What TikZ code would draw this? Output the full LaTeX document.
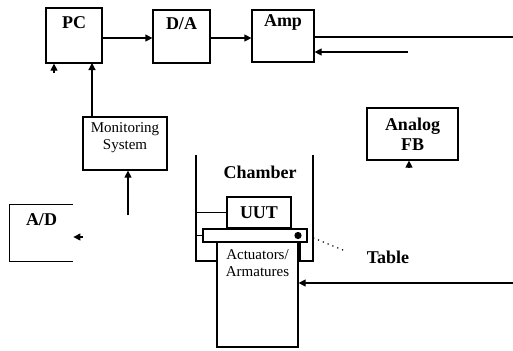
\documentclass[tikz,border=0pt]{standalone}
\usepackage{fontspec}
\setmainfont{Liberation Serif}
\usetikzlibrary{arrows.meta}

\begin{document}
\begin{tikzpicture}[x=0.5pt,y=-0.5pt,
  blk/.style={draw=black,line width=0.6pt,inner sep=0pt},
  bigtxt/.style={font=\fontsize{9}{10}\selectfont\bfseries},
  smalltxt/.style={font=\fontsize{7.5}{8.5}\selectfont,align=center},
  toplbl/.style={anchor=north,inner sep=#1},
  sig/.style={line width=0.6pt,-{Triangle[length=3.5pt,width=3.5pt]}},
  wire/.style={line width=0.6pt}]
  \useasboundingbox (0,0) rectangle (513,350);
  \node[blk,minimum width=28pt,minimum height=27.5pt,label={[bigtxt,toplbl=4.5pt]north:PC}] (pc) at (74,35.5) {};
  \node[blk,minimum width=28.5pt,minimum height=26.5pt,label={[bigtxt,toplbl=4pt]north:D/A}] (da) at (181.5,36.5) {};
  \node[blk,minimum width=31pt,minimum height=26pt,label={[bigtxt,toplbl=2.5pt]north:Amp}] (amp) at (283,36) {};
  \node[blk,minimum width=42pt,minimum height=26.5pt,label={[smalltxt,toplbl=3pt]north:Monitoring\\System}] (mon) at (125,143.5) {};
  \node[minimum width=31.5pt,minimum height=28pt,inner sep=0pt,label={[bigtxt,toplbl=4.5pt]north:A/D}] (ad) at (41.5,233) {};
  \draw[wire] (ad.north east) -- (ad.north west) -- (ad.south west) -- (ad.south east);
  \node[blk,bigtxt,align=center,minimum width=45.5pt,minimum height=26pt] (afb) at (412.5,134) {Analog\\FB};
  \coordinate (cwall) at (196,155);
  \coordinate (cwallr) at (313,155);
  \draw[wire] (cwall) -- (196,261) -- (217,261);
  \draw[wire] (cwallr) -- (313,261) -- (300,261) -- (300,242);
  \node[bigtxt] (chlbl) at (260,172) {Chamber};
  \node[blk,bigtxt,minimum width=32pt,minimum height=15.5pt] (uut) at (259,212.5) {UUT};
  \node[blk,minimum width=52pt,minimum height=6.5pt] (tbl) at (255,235.5) {};
  \fill (298,235.5) circle (1.8pt);
  \node[blk,minimum width=40.5pt,minimum height=52.5pt,label={[smalltxt,toplbl=4pt]north:Actuators/\\Armatures}] (act) at (257.5,294.5) {};
  \node[bigtxt] (tbllbl) at (388,257) {Table};
  \draw[wire] (uut.west) -- (uut.west -| cwall);
  \draw[wire] (tbl.west) -- (tbl.west -| cwall);
  \draw[wire,dotted,shorten <=3pt,shorten >=9pt] (tbl.east) -- (tbllbl.west);
  \coordinate (fwd) at (0,38);
  \draw[sig] (pc.east |- fwd) -- (da.west |- fwd);
  \draw[sig] (da.east |- fwd) -- (amp.west |- fwd);
  \coordinate (ampout) at (513,37);
  \draw[wire] (amp.east |- ampout) -- (ampout);
  \coordinate (ampin) at (408,52);
  \draw[sig] (ampin) -- (ampin -| amp.east);
  \coordinate (pcin) at (92,63);
  \draw[sig] (mon.north -| pcin) -- (pcin);
  \coordinate (pcstub) at (54,73);
  \draw[sig] (pcstub) -- (pcstub |- pc.south);
  \coordinate (monsrc) at (128,215);
  \draw[sig] (monsrc) -- (monsrc |- mon.south);
  \coordinate (adstub) at (83,237);
  \draw[sig] (adstub) -- (adstub -| ad.east);
  \coordinate (afbstub) at (409,168);
  \draw[sig] (afbstub) -- (afbstub |- afb.south);
  \coordinate (actin) at (513,283);
  \draw[sig] (actin) -- (actin -| act.east);
\end{tikzpicture}
\end{document}
